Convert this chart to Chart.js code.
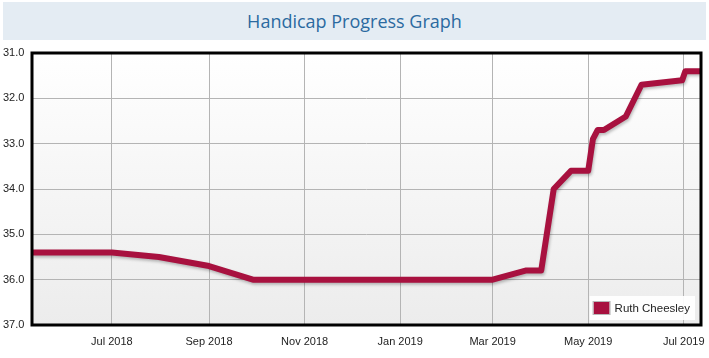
<!DOCTYPE html>
<html>
<head>
<meta charset="utf-8">
<script src="https://cdn.jsdelivr.net/npm/chart.js@4/dist/chart.umd.min.js"></script>
<style>
  html, body { margin: 0; padding: 0; background: #ffffff; }
  #wrap { position: relative; width: 709px; height: 358px; }
  #title { position: absolute; left: 3px; top: 2px; width: 703px; height: 38px; background: #e4ecf3;
           font-family: "Open Sans", "Noto Sans", sans-serif; font-size: 18px; color: #2b6aa0;
           text-align: center; line-height: 38px; }
  canvas { position: absolute; left: 0; top: 0; }
</style>
</head>
<body>
<div id="wrap">
  <canvas id="c" width="709" height="358"></canvas>
  <div id="title">Handicap Progress Graph</div>
</div>
<script>
const seriesName = 'Ruth Cheesley';
const dates = ['2018-05-11','2018-07-01','2018-07-31','2018-09-01','2018-09-29','2019-03-01',
               '2019-03-22','2019-04-01','2019-04-09','2019-04-20','2019-05-01','2019-05-04',
               '2019-05-07','2019-05-11','2019-05-25','2019-06-04','2019-06-30','2019-07-02','2019-07-12'];
const handicaps = [35.4, 35.4, 35.5, 35.7, 36.0, 36.0,
                   35.8, 35.8, 34.0, 33.6, 33.6, 32.9,
                   32.7, 32.7, 32.4, 31.7, 31.6, 31.4, 31.4];
const xTickDates = ['2018-07-01','2018-09-01','2018-11-01','2019-01-01','2019-03-01','2019-05-01','2019-07-01'];
const xTickLabels = ['Jul 2018','Sep 2018','Nov 2018','Jan 2019','Mar 2019','May 2019','Jul 2019'];
const xRange = ['2018-05-11','2019-07-12'];
const yMin = 31, yMax = 37;

const t = s => Date.parse(s + 'T00:00:00Z');
const points = dates.map((d, i) => ({ x: t(d), y: handicaps[i] }));
const tickMs = xTickDates.map(t);
const lineColor = '#a8113f';

const bgPlugin = {
  id: 'bgPlugin',
  beforeDraw(chart) {
    const { ctx, chartArea: a } = chart;
    const g = ctx.createLinearGradient(0, a.top, 0, a.bottom);
    g.addColorStop(0, '#ffffff');
    g.addColorStop(1, '#ececec');
    ctx.save();
    ctx.fillStyle = g;
    ctx.fillRect(a.left, a.top, a.right - a.left, a.bottom - a.top);
    ctx.restore();
  },
  beforeDatasetDraw(chart) {
    const ctx = chart.ctx;
    ctx.save();
    ctx.shadowColor = 'rgba(0,0,0,0.25)';
    ctx.shadowOffsetX = 1;
    ctx.shadowOffsetY = 2;
    ctx.shadowBlur = 3;
  },
  afterDatasetDraw(chart) {
    chart.ctx.restore();
  },
  afterDraw(chart) {
    const { ctx, chartArea: a } = chart;
    ctx.save();
    ctx.strokeStyle = '#000000';
    ctx.lineWidth = 3;
    ctx.strokeRect(a.left, a.top, a.right - a.left, a.bottom - a.top);
    // legend
    const ds = chart.data.datasets[0];
    ctx.font = '11.5px "Liberation Sans", Arial, sans-serif';
    const tw = ctx.measureText(ds.label).width;
    const bw = tw + 30, bh = 24;
    const bx = a.right - 6 - bw, by = a.bottom - 5 - bh;
    ctx.fillStyle = 'rgba(255,255,255,0.92)';
    ctx.fillRect(bx, by, bw, bh);
    ctx.fillStyle = ds.borderColor;
    ctx.fillRect(bx + 4, by + 6, 16, 12);
    ctx.strokeStyle = '#b8b8b8';
    ctx.lineWidth = 1;
    ctx.strokeRect(bx + 3.5, by + 5.5, 17, 13);
    ctx.fillStyle = '#222222';
    ctx.textBaseline = 'middle';
    ctx.fillText(ds.label, bx + 25, by + 12.5);
    ctx.restore();
  }
};

new Chart(document.getElementById('c'), {
  type: 'line',
  data: {
    datasets: [{
      label: seriesName,
      data: points,
      borderColor: lineColor,
      backgroundColor: lineColor,
      borderWidth: 6,
      borderJoinStyle: 'round',
      borderCapStyle: 'butt',
      pointRadius: 0,
      tension: 0,
      fill: false
    }]
  },
  options: {
    responsive: false,
    animation: false,
    layout: { padding: { top: 53, right: 8, left: 3, bottom: 0 } },
    plugins: { legend: { display: false }, title: { display: false }, tooltip: { enabled: false } },
    scales: {
      x: {
        type: 'linear',
        min: t(xRange[0]),
        max: t(xRange[1]),
        afterBuildTicks: s => { s.ticks = tickMs.map(v => ({ value: v })); },
        afterFit: s => { s.height = 33; s.paddingLeft = 0; s.paddingRight = 0; },
        grid: { color: '#b4b4b4', lineWidth: 1, drawTicks: false },
        border: { display: false },
        ticks: {
          autoSkip: false,
          maxRotation: 0,
          padding: 10,
          color: '#222222',
          font: { family: '"Liberation Sans", Arial, sans-serif', size: 11 },
          callback: (v) => { const i = tickMs.indexOf(v); return i >= 0 ? xTickLabels[i] : ''; }
        }
      },
      y: {
        reverse: true,
        min: yMin,
        max: yMax,
        afterFit: s => { s.width = 29; s.paddingTop = 0; s.paddingBottom = 0; },
        grid: { color: '#b4b4b4', lineWidth: 1, drawTicks: false },
        border: { display: false },
        ticks: {
          stepSize: 1,
          padding: 4,
          crossAlign: 'far',
          color: '#222222',
          font: { family: '"Liberation Sans", Arial, sans-serif', size: 11 },
          callback: v => Number(v).toFixed(1)
        }
      }
    }
  },
  plugins: [bgPlugin]
});
</script>
</body>
</html>
